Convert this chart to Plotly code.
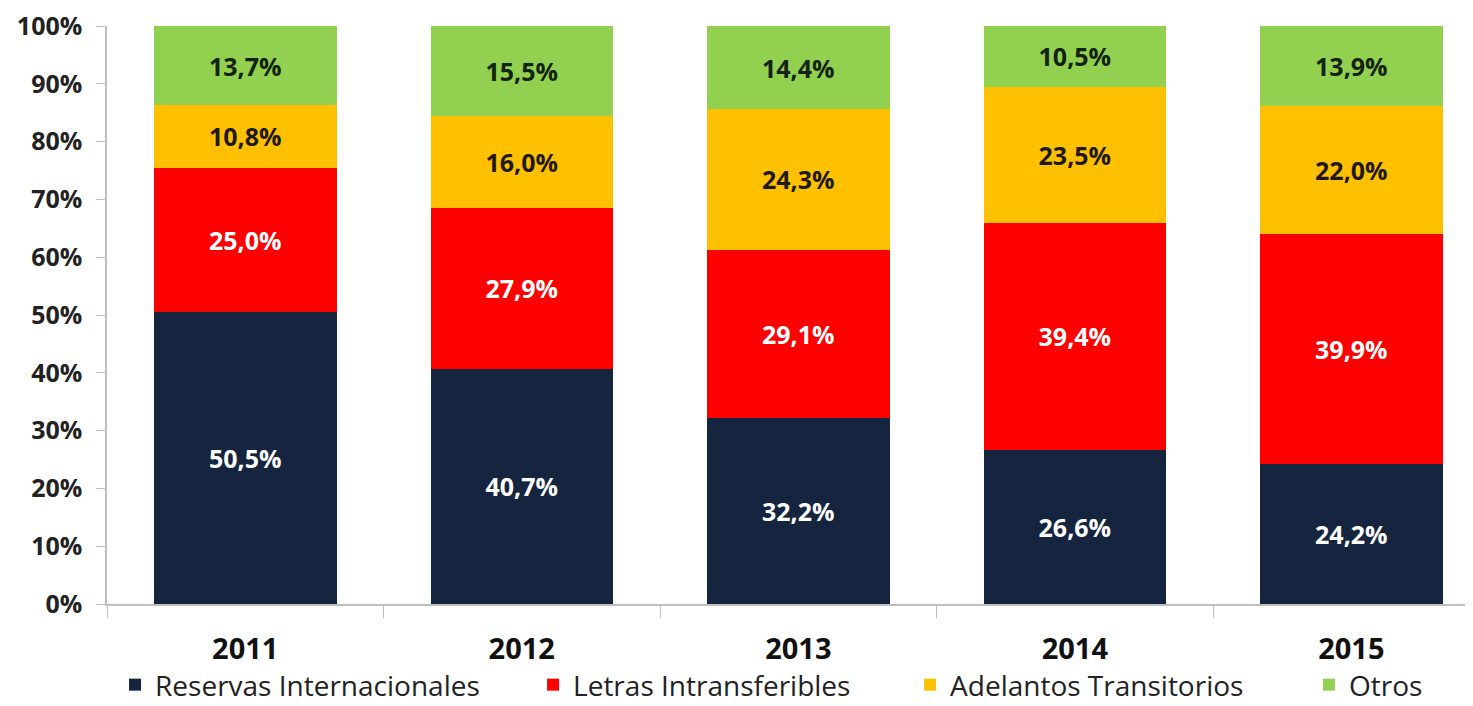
import plotly.graph_objects as go

years = ["2011", "2012", "2013", "2014", "2015"]
reservas = [50.5, 40.7, 32.2, 26.6, 24.2]
letras = [25.0, 27.9, 29.1, 39.4, 39.9]
adelantos = [10.8, 16.0, 24.3, 23.5, 22.0]
otros = [13.7, 15.5, 14.4, 10.5, 13.9]

series = [
    ("Reservas Internacionales", reservas, "#15243F", "white", "legend", 0.0059),
    ("Letras Intransferibles", letras, "#FF0000", "white", "legend2", 0.3119),
    ("Adelantos Transitorios", adelantos, "#FFC000", "#1e1a10", "legend3", 0.5879),
    ("Otros", otros, "#92D050", "#13230f", "legend4", 0.8799),
]

def fmt(v):
    return f"{v:.1f}".replace(".", ",") + "%"

fig = go.Figure()
legends = {}
for name, vals, color, tcolor, lg, lx in series:
    fig.add_trace(go.Bar(
        name=name, x=years, y=vals,
        marker=dict(color=color, line=dict(width=0)),
        text=[fmt(v) for v in vals],
        textposition="inside", insidetextanchor="middle",
        textfont=dict(color=tcolor, size=25, family="Open Sans", weight="bold"),
        constraintext="none",
        hoverinfo="skip",
        legend=lg,
    ))
    legends[lg] = dict(orientation="h", x=lx, xanchor="left", y=-0.1401, yanchor="middle",
                       font=dict(size=28, family="Open Sans", color="#222"),
                       bgcolor="rgba(0,0,0,0)", borderwidth=0, itemwidth=30)

# page body has an 8px margin, so the figure is sized to fit the window
fig.update_layout(
    barmode="stack", barnorm="percent", bargap=0.34,
    width=1465, height=698,
    margin=dict(l=99, r=0, t=18, b=102, autoexpand=False),
    plot_bgcolor="white", paper_bgcolor="white",
    font=dict(family="Open Sans", color="#222"),
    showlegend=True,
    **legends,
)
fig.update_xaxes(
    type="category", range=[-0.5, 4.44],
    showline=True, linecolor="#BFBFBF", linewidth=1.5,
    ticks="outside", tickson="boundaries", ticklen=12, tickcolor="#BFBFBF",
    tickfont=dict(size=29, family="Open Sans", weight="bold", color="#111"),
    ticklabelstandoff=18,
    showgrid=False, automargin=False,
)
fig.update_yaxes(
    range=[0, 100], dtick=10, ticksuffix="%",
    showline=True, linecolor="#BFBFBF", linewidth=1.5,
    ticks="outside", ticklen=9, tickcolor="#BFBFBF",
    tickfont=dict(size=25, family="Open Sans", weight="bold", color="#222"),
    ticklabelstandoff=9, ticklabeloverflow="allow",
    showgrid=False, zeroline=False, automargin=False,
)

fig.write_html("out.html")
